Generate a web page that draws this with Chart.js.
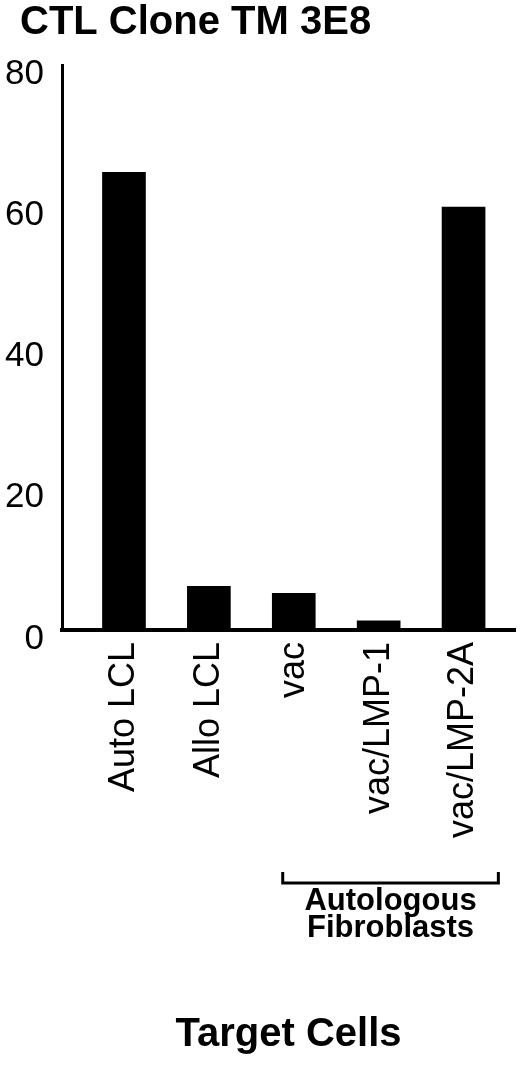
<!DOCTYPE html>
<html>
<head>
<meta charset="utf-8">
<script src="https://cdn.jsdelivr.net/npm/chart.js@4/dist/chart.umd.min.js"></script>
<style>
  body { margin: 0; background: #fff; }
  canvas { display: block; }
</style>
</head>
<body>
<canvas id="lysisChart" width="520" height="1067"></canvas>
<script>
// data
const targetCells = ['Auto LCL', 'Allo LCL', 'vac', 'vac/LMP-1', 'vac/LMP-2A'];
const lysis = [64.8, 6.2, 5.2, 1.3, 59.9];
const yTicks = [0, 20, 40, 60, 80];
const groupMembers = ['vac', 'vac/LMP-1', 'vac/LMP-2A'];
const groupLabel = ['Autologous', 'Fibroblasts'];

const FONT = "'Liberation Sans', Arial, Helvetica, sans-serif";

// bracket + label under the fibroblast targets
const bracketPlugin = {
    id: 'bracket',
    afterDraw(chart) {
        const ctx = chart.ctx;
        const xs = chart.scales.x;
        const first = targetCells.indexOf(groupMembers[0]) + 1;
        const last = targetCells.indexOf(groupMembers[groupMembers.length - 1]) + 1;
        const x0 = xs.getPixelForValue(first - 0.13);
        const x1 = xs.getPixelForValue(last + 0.41);
        const y = chart.chartArea.bottom + 253;

        ctx.save();
        ctx.strokeStyle = '#000';
        ctx.lineWidth = 3;
        ctx.beginPath();
        ctx.moveTo(x0, y - 11);
        ctx.lineTo(x0, y);
        ctx.lineTo(x1, y);
        ctx.lineTo(x1, y - 11);
        ctx.stroke();

        ctx.fillStyle = '#000';
        ctx.font = 'bold 31px ' + FONT;
        ctx.textAlign = 'center';
        ctx.textBaseline = 'middle';
        const cx = (x0 + x1) / 2;
        groupLabel.forEach((line, i) => ctx.fillText(line, cx, y + 18 + i * 27));
        ctx.restore();
    }
};

// title sits a bit in from the left edge, the y labels do not
const titleIndent = {
    id: 'titleIndent',
    afterLayout(chart) {
        if (chart.titleBlock) chart.titleBlock.left += 20;
    }
};

const ctx = document.getElementById('lysisChart').getContext('2d');

new Chart(ctx, {
    type: 'bar',
    data: {
        datasets: [{
            data: lysis.map((v, i) => ({ x: i + 1, y: v })),
            backgroundColor: '#000',
            borderWidth: 0,
            barThickness: 43
        }]
    },
    options: {
        responsive: false,
        animation: false,
        devicePixelRatio: 1,
        layout: { padding: { left: 0, right: 5, top: 0, bottom: 0 } },
        plugins: {
            legend: { display: false },
            tooltip: { enabled: false },
            title: {
                display: true,
                text: 'CTL Clone TM 3E8',
                align: 'start',
                color: '#000',
                font: { family: FONT, size: 40, weight: 'bold', lineHeight: 1 },
                padding: { top: 3, bottom: 22 }
            }
        },
        scales: {
            x: {
                type: 'linear',
                offset: false,
                min: 0.27,
                max: 5.606,
                grid: { display: false, drawTicks: false },
                border: { display: true, color: '#000', width: 4 },
                afterBuildTicks: axis => {
                    axis.ticks = targetCells.map((c, i) => ({ value: i + 1 }));
                },
                afterFit: axis => { axis.height = 437; },
                ticks: {
                    autoSkip: false,
                    minRotation: 90,
                    maxRotation: 90,
                    padding: 12,
                    color: '#000',
                    font: { family: FONT, size: 36 },
                    callback: v => targetCells[v - 1]
                },
                title: {
                    display: true,
                    text: 'Target Cells',
                    color: '#000',
                    font: { family: FONT, size: 40, weight: 'bold', lineHeight: 1 },
                    padding: { top: 0, bottom: 12 }
                }
            },
            y: {
                min: 0,
                max: 80,
                grid: { display: false, drawTicks: false },
                border: { display: true, color: '#000', width: 3 },
                afterBuildTicks: axis => {
                    axis.ticks = yTicks.map(v => ({ value: v }));
                },
                afterFit: axis => { axis.width = 62; },
                ticks: {
                    padding: 18,
                    labelOffset: 9,
                    color: '#000',
                    font: { family: FONT, size: 35 }
                }
            }
        }
    },
    plugins: [bracketPlugin, titleIndent]
});
</script>
</body>
</html>
